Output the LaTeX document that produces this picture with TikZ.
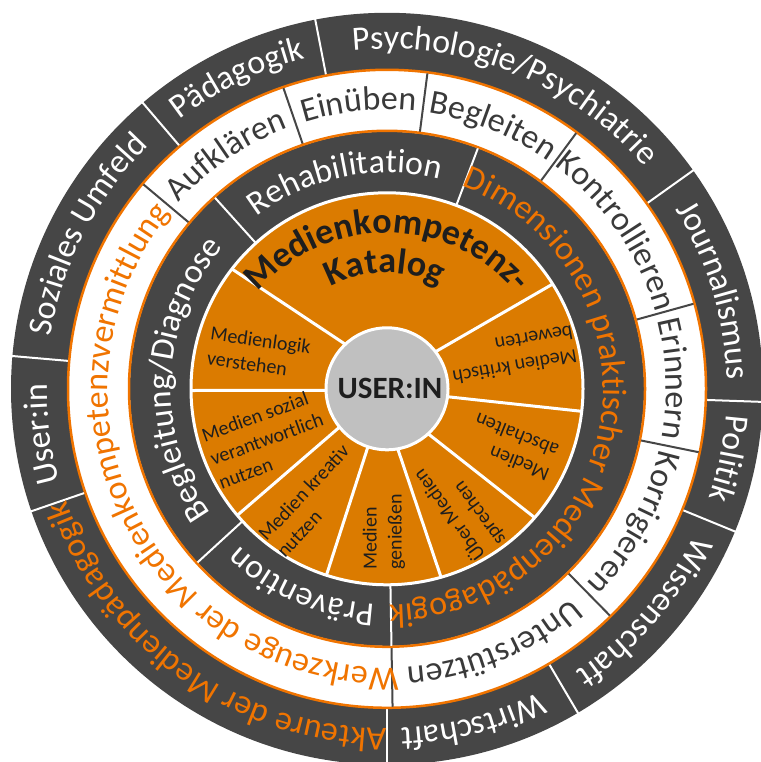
\documentclass[tikz,border=0pt]{standalone}
\usepackage{fontspec}
\setmainfont{Carlito}
\usetikzlibrary{decorations.text}
\definecolor{dk}{HTML}{464646}
\definecolor{ordisk}{HTML}{DB7B00}
\definecolor{orline}{HTML}{F07400}
\definecolor{grc}{HTML}{C0C0C0}
\definecolor{txtdk}{HTML}{1E1E1E}
\definecolor{txtring}{HTML}{3A3A3A}
\newcommand{\ringfnt}{\fontsize{34}{40}\selectfont}
\newcommand{\titlefnt}{\fontsize{36}{40}\selectfont\bfseries}
% #1 centre coordinate, #2 radius, #3 centre angle, #4 half span, #5 format, #6 text
\newcommand{\arclabel}[6]{%
  \path[decorate,decoration={text along path,text align=center,text={|#5|#6}}]
    ([shift={(#3+#4:#2)}]#1) arc[start angle=#3+#4, end angle=#3-#4, radius=#2];}
\tikzset{
  lbl/.style={font=\fontsize{20}{25}\selectfont, text=txtdk, align=left, inner sep=0pt},
  outdiv/.style={white, line width=2pt},
  middiv/.style={dk, line width=2pt},
  indiv/.style={white, line width=2pt},
  diskdiv/.style={white, line width=3pt}
}
\begin{document}
\begin{tikzpicture}
\useasboundingbox (0pt,0pt) rectangle (760pt,762pt);
\coordinate (C) at (387pt,373.2pt);
\coordinate (Ct) at (387pt,359.2pt);
% rings
\fill[dk] (C) circle[radius=376pt];
\foreach \a in {101,130.5,175,199,270,300.5,337.7,358,35.5}
  \draw[outdiv] ([shift={(\a:318pt)}]C) -- ([shift={(\a:378pt)}]C);
\fill[white] (C) circle[radius=319pt];
\draw[orline, line width=2.5pt] (C) circle[radius=319pt];
\foreach \a in {140,109,82.7,53.5,15.5,-11.5,-45.5,-89}
  \draw[middiv] ([shift={(\a:258pt)}]C) -- ([shift={(\a:318pt)}]C);
\fill[dk] (C) circle[radius=257pt];
\draw[orline, line width=2.5pt] (C) circle[radius=258pt];
\foreach \a in {69.3,132,222.5,271}
  \draw[indiv] ([shift={(\a:195pt)}]C) -- ([shift={(\a:257pt)}]C);
\fill[ordisk] (C) circle[radius=196pt];
\draw[white, line width=3pt] (C) circle[radius=196pt];
\foreach \i/\o in {132.9/142.3, 37.5/32.3, 181.5/180.5, -7.5/-6.6, 218.9/220.2, 251.8/252, 280/286, 312.3/318.9}
  \draw[diskdiv] ([shift={(\i:60pt)}]C) -- ([shift={(\o:196pt)}]C);
\filldraw[fill=grc, draw=white, line width=3pt] (C) circle[radius=61pt];
% outer ring labels
\arclabel{C}{340pt}{68.25}{50}{\ringfnt\color{white}}{Psychologie/Psychiatrie}
\arclabel{C}{340pt}{115.75}{40}{\ringfnt\color{white}}{Pädagogik}
\arclabel{C}{340pt}{152.75}{40}{\ringfnt\color{white}}{Soziales Umfeld}
\arclabel{C}{340pt}{187.5}{40}{\ringfnt\color{white}}{User:in}
\arclabel{C}{340pt}{234.5}{50}{\ringfnt\color{orline}}{Akteure der Medienpädagogik}
\arclabel{C}{340pt}{284.5}{40}{\ringfnt\color{white}}{Wirtschaft}
\arclabel{C}{340pt}{319.1}{40}{\ringfnt\color{white}}{Wissenschaft}
\arclabel{C}{340pt}{348.5}{40}{\ringfnt\color{white}}{Politik}
\arclabel{C}{340pt}{16.75}{40}{\ringfnt\color{white}}{Journalismus}
% middle ring labels
\arclabel{C}{279pt}{124.5}{40}{\ringfnt\color{txtring}}{Aufklären}
\arclabel{C}{279pt}{95.7}{40}{\ringfnt\color{txtring}}{Einüben}
\arclabel{C}{279pt}{68.1}{40}{\ringfnt\color{txtring}}{Begleiten}
\arclabel{C}{279pt}{34.5}{45}{\ringfnt\color{txtring}}{Kontrollieren}
\arclabel{C}{279pt}{2}{40}{\ringfnt\color{txtring}}{Erinnern}
\arclabel{C}{279pt}{-28.5}{45}{\ringfnt\color{txtring}}{Korrigieren}
\arclabel{C}{279pt}{-67.25}{45}{\ringfnt\color{txtring}}{Unterstützen}
\arclabel{C}{279pt}{206.7}{80}{\ringfnt\color{orline}}{Werkzeuge der Medienkompetenzvermittlung}
% inner ring labels
\arclabel{C}{216pt}{101.5}{45}{\ringfnt\color{white}}{Rehabilitation}
\arclabel{C}{216pt}{177.25}{60}{\ringfnt\color{white}}{Begleitung/Diagnose}
\arclabel{C}{216pt}{246.75}{45}{\ringfnt\color{white}}{Prävention}
\arclabel{C}{216pt}{-9.85}{88}{\ringfnt\color{orline}}{Dimensionen praktischer Medienpädagogik}
% title
\arclabel{Ct}{170pt}{90}{60}{\titlefnt\color{txtdk}}{Medienkompetenz-}
\arclabel{C}{116pt}{91}{50}{\titlefnt\color{txtdk}}{Katalog}
% centre
\node[font=\fontsize{31}{34}\selectfont\bfseries, text=txtdk, inner sep=0pt] (user) at (390pt,374pt) {USER:IN};
% disk labels
\node[lbl, rotate=-8] (mlog) at (259pt,409.6pt) {Medienlogik\\verstehen};
\node[lbl, rotate=20] (msoz) at (266.7pt,323pt) {Medien sozial\\verantwortlich\\nutzen};
\node[lbl, rotate=47] (mkre) at (312.6pt,261.1pt) {Medien kreativ\\nutzen};
\node[lbl, rotate=90] (mgen) at (384pt,230pt) {Medien\\genießen};
\node[lbl, rotate=126] (mspr) at (459.3pt,254.4pt) {Über Medien\\sprechen};
\node[lbl, rotate=158] (mabs) at (512pt,314.6pt) {Medien\\abschalten};
\node[lbl, rotate=190] (mkri) at (512.8pt,407pt) {Medien kritisch\\bewerten};
\end{tikzpicture}
\end{document}
